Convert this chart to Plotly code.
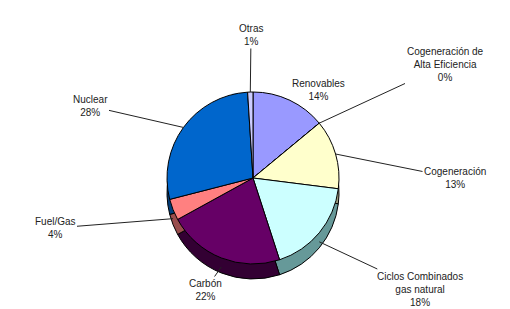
import math
import plotly.graph_objects as go

# ---- data ----
labels = ["Renovables", "Cogeneración de Alta Eficiencia", "Cogeneración",
          "Ciclos Combinados gas natural", "Carbón", "Fuel/Gas", "Nuclear", "Otras"]
values = [14, 0, 13, 18, 22, 4, 28, 1]
label_texts = ["Renovables<br>14%", "Cogeneración de<br>Alta Eficiencia<br>0%",
               "Cogeneración<br>13%", "Ciclos Combinados<br>gas natural<br>18%",
               "Carbón<br>22%", "Fuel/Gas<br>4%", "Nuclear<br>28%", "Otras<br>1%"]
top_colors = ["#9999FF", "#993366", "#FFFFCC", "#CCFFFF", "#660066", "#FF8080", "#0066CC", "#CCCCFF"]
side_colors = ["#5C5C99", "#5C1F3D", "#99997A", "#669999", "#330033", "#994D4D", "#003D7A", "#7A7A99"]

# ---- layout geometry (pixels) ----
W, H = 510, 309
cx, cy, r = 245, 170, 86
depth = 15
# label centre positions (pixels)
label_pos = [(310, 82), (437, 57), (447, 170), (412, 281),
             (197, 282), (47, 220), (82, 98), (243, 27)]


def px(x):
    return x / W


def py(y):
    return 1 - y / H


fig = go.Figure()
# side (depth) layer
fig.add_trace(go.Pie(
    labels=labels, values=values, sort=False, direction="clockwise", rotation=0,
    marker=dict(colors=side_colors, line=dict(color="black", width=1)),
    textinfo="none", hoverinfo="skip", showlegend=False,
    domain=dict(x=[px(cx - r), px(cx + r)], y=[py(cy + depth + r), py(cy + depth - r)]),
))
# top layer
fig.add_trace(go.Pie(
    labels=labels, values=values, sort=False, direction="clockwise", rotation=0,
    marker=dict(colors=top_colors, line=dict(color="black", width=1)),
    textinfo="none", showlegend=False,
    domain=dict(x=[px(cx - r), px(cx + r)], y=[py(cy + r), py(cy - r)]),
))

total = sum(values)
cum = 0
for v, txt, (lx, ly) in zip(values, label_texts, label_pos):
    mid = (cum + v / 2) / total * 2 * math.pi
    cum += v
    tx = cx + r * math.sin(mid)
    ty = cy - r * math.cos(mid)
    if math.cos(mid) < 0:
        ty += depth * 0.6
    fig.add_annotation(
        x=px(tx), y=py(ty), xref="paper", yref="paper",
        ax=lx - tx, ay=ly - ty, axref="pixel", ayref="pixel",
        text=txt, showarrow=True, arrowhead=0, arrowwidth=1, arrowcolor="#222222",
        font=dict(family="Liberation Sans, Arial, sans-serif", size=10, color="#222222"),
        align="center",
    )

fig.update_layout(
    width=W, height=H, margin=dict(l=0, r=0, t=0, b=0),
    paper_bgcolor="white", plot_bgcolor="white", showlegend=False,
)

fig.write_html("out.html")
